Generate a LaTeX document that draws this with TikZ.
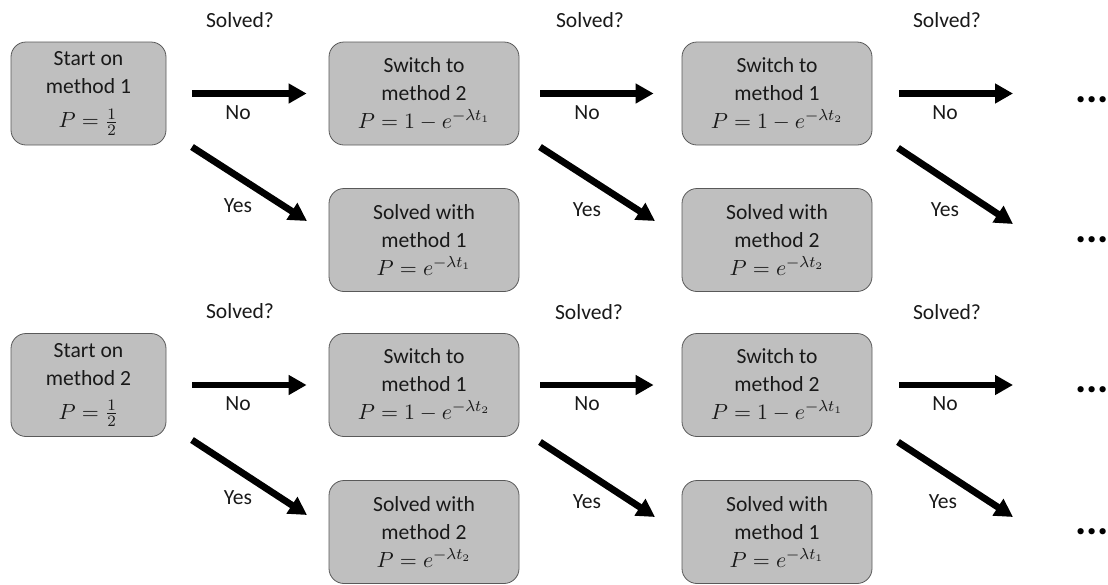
\documentclass[tikz,border=0pt]{standalone}
\usepackage{fontspec}
\setmainfont{Carlito}
\usetikzlibrary{arrows.meta,positioning,calc}

\begin{document}
\begin{tikzpicture}[x=0.5pt, y=-0.5pt,
        >={Triangle[length=9pt,width=9.5pt]},
        every node/.style = {font=\fontsize{10.8}{14}\selectfont, text=black!90},
        box/.style = {draw=black!65, fill=black!25, rounded corners=7.5pt, align=center,
                minimum height=51.5pt, inner sep=1pt},
        narrow/.style = {box, minimum width=77.5pt},
        wide/.style = {box, minimum width=95pt},
        arr/.style = {->, line width=3.4pt},
        dots/.style = {font=\fontsize{21}{21}\selectfont\bfseries, text=black},
    ]
        \useasboundingbox (0,0) rectangle (1108,584);

        % upper tree: start on method 1
        \node[narrow] (start1) at (88.5,93.5) {Start on\\method 1\\[3pt]$P=\frac{1}{2}$};
        \node[wide] (sw12) at (424,93.5) {Switch to\\method 2\\$P=1-e^{-\lambda t_1}$};
        \node[wide] (sw13) at (777,93.5) {Switch to\\method 1\\$P=1-e^{-\lambda t_2}$};
        \node[wide] (sol12) at (424,240) {Solved with\\method 1\\$P=e^{-\lambda t_1}$};
        \node[wide] (sol13) at (777,240) {Solved with\\method 2\\$P=e^{-\lambda t_2}$};
        \node[dots] (more1) at (1092,100) {...};
        \node[dots] (more2) at (1092,240) {...};

        \node (q11) at (240,20) {Solved?};
        \node (q12) at (590,20) {Solved?};
        \node (q13) at (947,20) {Solved?};
        \node (no11) at (238,113) {No};
        \node (no12) at (587,113) {No};
        \node (no13) at (945,113) {No};
        \node (yes11) at (238,206) {Yes};
        \node (yes12) at (587,210) {Yes};
        \node (yes13) at (945,210) {Yes};

        \coordinate (e13) at (1013,93.5);
        \coordinate (d11) at (192,147);
        \coordinate (f11) at (307,221);
        \coordinate (d12) at (540,147);
        \coordinate (f12) at (655,221);
        \coordinate (d13) at (898,148);
        \coordinate (f13) at (1013,224);

        \draw[arr, shorten <=13pt, shorten >=11pt] (start1.east) -- (sw12.west |- start1.east);
        \draw[arr, shorten <=10.5pt, shorten >=14pt] (sw12.east) -- (sw13.west);
        \draw[arr, shorten <=13.5pt] (sw13.east) -- (sw13.east -| e13);
        \draw[arr] (d11) -- (f11);
        \draw[arr] (d12) -- (f12);
        \draw[arr] (d13) -- (f13);

        % lower tree: start on method 2
        \node[narrow] (start2) at (88.5,385) {Start on\\method 2\\[3pt]$P=\frac{1}{2}$};
        \node[wide] (sw22) at (424,385) {Switch to\\method 1\\$P=1-e^{-\lambda t_2}$};
        \node[wide] (sw23) at (777,385) {Switch to\\method 2\\$P=1-e^{-\lambda t_1}$};
        \node[wide] (sol22) at (424,532) {Solved with\\method 2\\$P=e^{-\lambda t_2}$};
        \node[wide] (sol23) at (777,532) {Solved with\\method 1\\$P=e^{-\lambda t_1}$};
        \node[dots] (more3) at (1092,390) {...};
        \node[dots] (more4) at (1092,532) {...};

        \node (q21) at (240,311) {Solved?};
        \node (q22) at (589,312) {Solved?};
        \node (q23) at (947,312) {Solved?};
        \node (no21) at (238,404) {No};
        \node (no22) at (587,404) {No};
        \node (no23) at (945,404) {No};
        \node (yes21) at (238,498) {Yes};
        \node (yes22) at (587,502) {Yes};
        \node (yes23) at (943,502) {Yes};

        \coordinate (e23) at (1013,385);
        \coordinate (d21) at (192,440);
        \coordinate (f21) at (307,515);
        \coordinate (d22) at (540,442);
        \coordinate (f22) at (655,517);
        \coordinate (d23) at (898,442);
        \coordinate (f23) at (1013,517);

        \draw[arr, shorten <=13pt, shorten >=11pt] (start2.east) -- (sw22.west |- start2.east);
        \draw[arr, shorten <=10.5pt, shorten >=14pt] (sw22.east) -- (sw23.west);
        \draw[arr, shorten <=13.5pt] (sw23.east) -- (sw23.east -| e23);
        \draw[arr] (d21) -- (f21);
        \draw[arr] (d22) -- (f22);
        \draw[arr] (d23) -- (f23);
    \end{tikzpicture}
\end{document}
